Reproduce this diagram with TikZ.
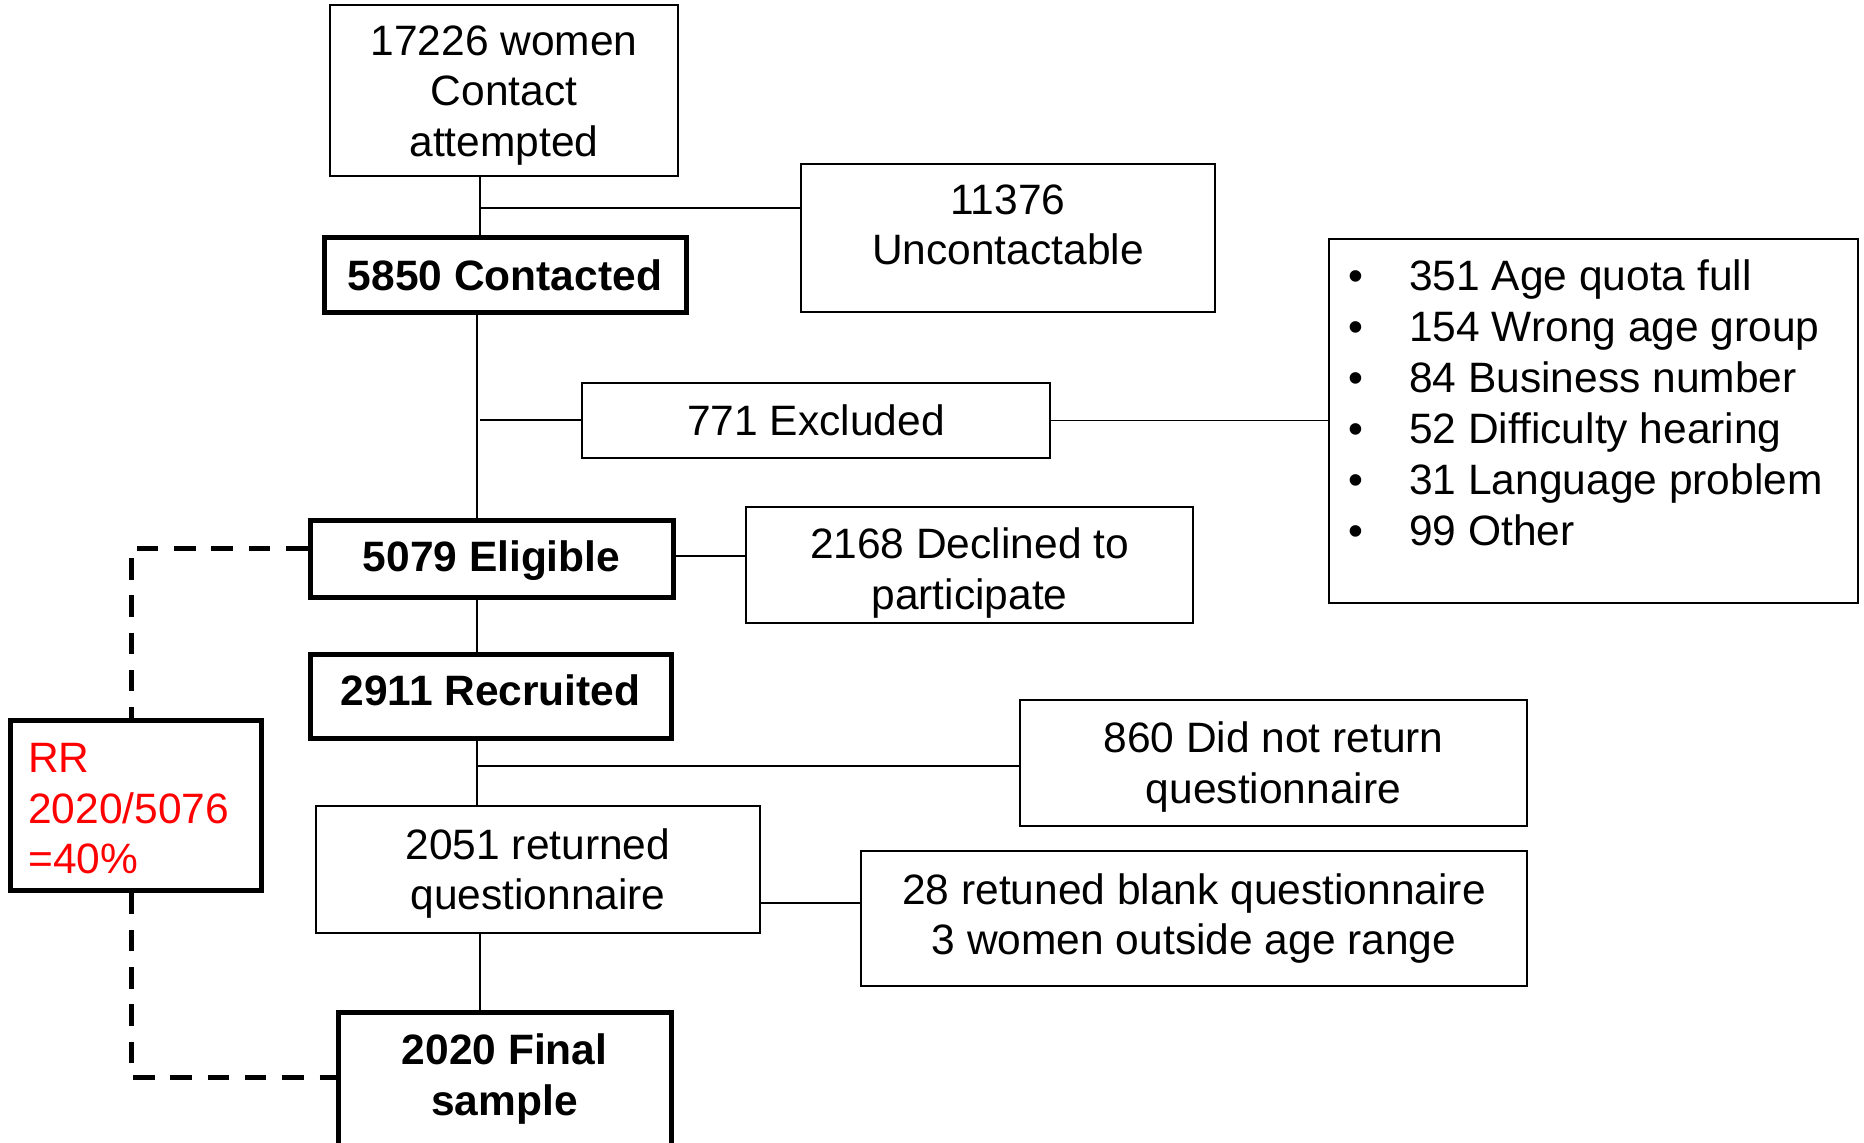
\documentclass[tikz,border=0pt]{standalone}
\usepackage{fontspec}
\setmainfont{Liberation Sans}
\usetikzlibrary{calc}
\begin{document}
\begin{tikzpicture}[x=1pt,y=-1pt,
  txt/.style={font=\fontsize{42.5}{50.5}\selectfont, align=center, inner sep=0pt},
  tbox/.style={draw, line width=1.5pt, txt},
  kbox/.style={draw, line width=5pt, txt},
  bold/.style={font=\fontsize{42.5}{50.5}\selectfont\bfseries},
  conn/.style={line width=1.5pt},
  dconn/.style={line width=5pt, dash pattern=on 21.5pt off 15.8pt}]
\useasboundingbox (0,0) rectangle (1864,1143);

% boxes
\node[tbox, minimum width=348pt, minimum height=171pt] (A) at (504,90.5) {};
\node[txt] (At) at (504,95.5) {17226 women\\Contact\\attempted};
\node[kbox, minimum width=362pt, minimum height=75pt] (contacted) at (505,274.5) {};
\node[txt, bold] (contactedt) at (505,275.5) {5850 Contacted};
\node[tbox, minimum width=414pt, minimum height=148pt] (unc) at (1008,238) {};
\node[txt] (unct) at (1008,225) {11376\\Uncontactable};
\node[tbox, minimum width=468pt, minimum height=75pt] (excl) at (816,420.5) {};
\node[txt] (exclt) at (816,420.5) {771 Excluded};
\node[tbox, minimum width=529pt, minimum height=364pt] (bul) at (1593.5,421) {};
\foreach \t [count=\i] in {351 Age quota full, 154 Wrong age group, 84 Business number, 52 Difficulty hearing, 31 Language problem, 99 Other}
  \node[txt, anchor=base west] (b\i) at (1348,{239+51*\i}) {\makebox[61pt][l]{•}\t};
\node[kbox, minimum width=363pt, minimum height=77pt] (elig) at (491.5,558.5) {};
\node[txt, bold] (eligt) at (491.5,560.5) {5079 Eligible};
\node[tbox, minimum width=447pt, minimum height=116pt] (decl) at (969.5,565) {};
\node[txt] (declt) at (969.5,573) {2168 Declined to\\participate};
\node[kbox, minimum width=251pt, minimum height=170pt] (rr) at (135.5,805) {};
\node[txt, text=red, align=left, anchor=west] (rrt) at (28,809) {RR\\2020/5076\\=40\%};
\node[kbox, minimum width=361pt, minimum height=84pt] (recr) at (490.5,696) {};
\node[txt, bold] (recrt) at (490.5,690) {2911 Recruited};
\node[tbox, minimum width=507pt, minimum height=126pt] (dnr) at (1273.5,763) {};
\node[txt] (dnrt) at (1273.5,767) {860 Did not return\\questionnaire};
\node[tbox, minimum width=444pt, minimum height=127pt] (ret) at (538,869.5) {};
\node[txt] (rett) at (538,873.5) {2051 returned\\questionnaire};
\node[tbox, minimum width=666pt, minimum height=135pt] (blank) at (1194,918.5) {};
\node[txt] (blankt) at (1194,918.5) {28 retuned blank questionnaire\\3 women outside age range};
\node[kbox, minimum width=333pt, minimum height=150pt] (final) at (504.5,1087) {};
\node[txt, bold] (finalt) at (504.5,1079) {2020 Final\\sample};

% helper coordinates
\coordinate (s1) at (480,0);
\coordinate (s2) at (477,0);
\coordinate (d) at (131,0);
\coordinate (j1) at (480,208);
\coordinate (j2) at (480,420);
\coordinate (j3) at (0,556);
\coordinate (j4) at (477,766);
\coordinate (j5) at (0,903);
\coordinate (j6) at (0,548);
\coordinate (j7) at (0,1077);

% connectors
\draw[conn] (A.south -| s1) -- (contacted.north -| s1);
\draw[conn] (j1) -- (j1 -| unc.west);
\draw[conn] (contacted.south -| s2) -- (elig.north -| s2);
\draw[conn] (j2) -- (j2 -| excl.west);
\draw[conn] (excl.east) -- (excl.east -| bul.west);
\draw[conn] (elig.east |- j3) -- (decl.west |- j3);
\draw[conn] (elig.south -| s2) -- (recr.north -| s2);
\draw[conn] (recr.south -| s2) -- (ret.north -| s2);
\draw[conn] (j4) -- (j4 -| dnr.west);
\draw[conn] (ret.east |- j5) -- (blank.west |- j5);
\draw[conn] (ret.south -| s1) -- (final.north -| s1);
\draw[dconn] (elig.west |- j6) -| (rr.north -| d);
\draw[dconn] (rr.south -| d) |- (final.west |- j7);
\end{tikzpicture}
\end{document}
